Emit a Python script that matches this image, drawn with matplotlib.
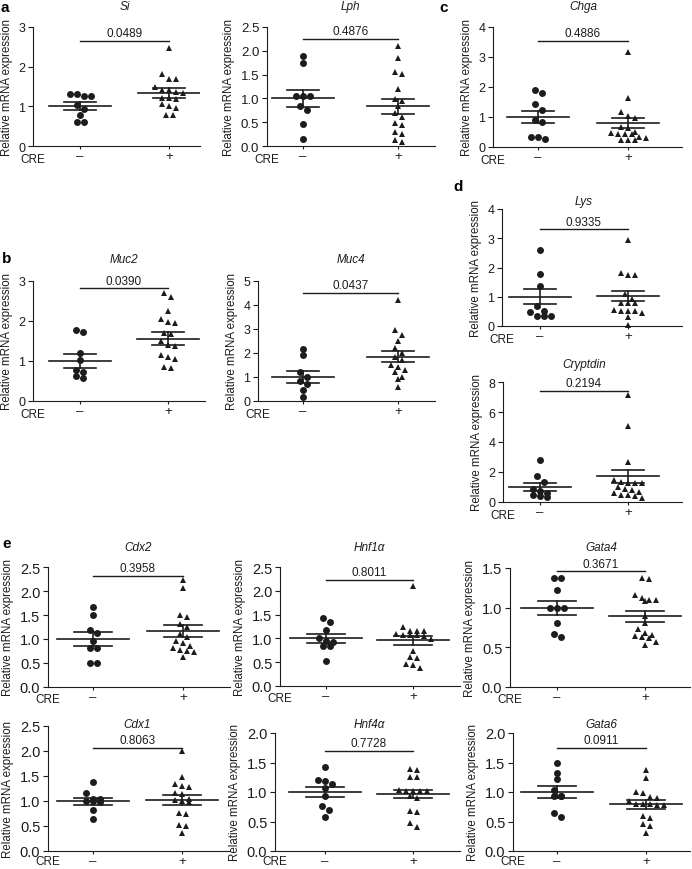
import numpy as np
import matplotlib
matplotlib.use("Agg")
import matplotlib.pyplot as plt

plt.rcParams["font.family"] = ["Liberation Sans", "DejaVu Sans"]

# ---- data (relative mRNA expression, CRE- vs CRE+) ----
si_ctrl = [1.32, 1.27, 1.27, 1.32, 1.04, 0.93, 0.78, 0.60, 0.60]
si_cre = [2.46, 1.82, 1.70, 1.70, 1.48, 1.42, 1.40, 1.35, 1.33, 1.22, 1.20, 1.18, 1.05, 1.00, 0.95, 0.78, 0.78]
si_mean, si_sem, si_p = [1.0, 1.33], [0.10, 0.12], "0.0489"

lph_ctrl = [1.89, 1.75, 1.04, 1.04, 1.04, 0.83, 0.76, 0.47, 0.14]
lph_cre = [2.10, 1.85, 1.55, 1.52, 1.20, 0.98, 0.95, 0.85, 0.70, 0.60, 0.48, 0.45, 0.30, 0.25, 0.12, 0.08]
lph_mean, lph_sem, lph_p = [1.0, 0.83], [0.18, 0.15], "0.4876"

chga_ctrl = [1.91, 1.80, 1.42, 1.24, 0.89, 0.84, 0.35, 0.28, 0.35]
chga_cre = [3.16, 1.64, 1.17, 1.04, 0.97, 0.68, 0.62, 0.50, 0.48, 0.45, 0.45, 0.42, 0.35, 0.30, 0.25, 0.25, 0.25]
chga_mean, chga_sem, chga_p = [1.0, 0.80], [0.21, 0.17], "0.4886"

muc2_ctrl = [1.78, 1.72, 1.20, 1.02, 0.78, 0.72, 0.62, 0.58]
muc2_cre = [2.70, 2.60, 2.25, 2.05, 1.98, 1.95, 1.70, 1.68, 1.50, 1.40, 1.38, 1.15, 1.10, 1.05, 0.85, 0.82]
muc2_mean, muc2_sem, muc2_p = [1.0, 1.56], [0.17, 0.16], "0.0390"

muc4_ctrl = [2.15, 1.90, 1.20, 1.00, 0.85, 0.70, 0.45, 0.15]
muc4_cre = [4.20, 2.95, 2.75, 2.50, 2.20, 2.00, 1.85, 1.70, 1.50, 1.40, 1.30, 1.20, 1.00, 0.90, 0.60]
muc4_mean, muc4_sem, muc4_p = [1.0, 1.85], [0.25, 0.22], "0.0437"

lys_ctrl = [2.60, 1.77, 1.36, 0.70, 0.52, 0.49, 0.33, 0.33, 0.33]
lys_cre = [2.95, 1.82, 1.75, 1.73, 1.10, 0.92, 0.80, 0.78, 0.78, 0.55, 0.52, 0.50, 0.50, 0.45, 0.32, 0.02]
lys_mean, lys_sem, lys_p = [1.0, 1.02], [0.26, 0.18], "0.9335"

cryp_ctrl = [2.80, 1.75, 1.35, 0.90, 0.75, 0.60, 0.48, 0.42, 0.35]
cryp_cre = [7.15, 5.10, 2.70, 1.50, 1.35, 1.30, 1.28, 1.25, 1.00, 0.90, 0.80, 0.70, 0.60, 0.50, 0.45, 0.40, 0.30]
cryp_mean, cryp_sem, cryp_p = [1.0, 1.72], [0.28, 0.43], "0.2194"

cdx2_ctrl = [1.67, 1.51, 1.18, 1.13, 0.96, 0.82, 0.82, 0.51, 0.51]
cdx2_cre = [2.22, 2.07, 1.49, 1.46, 1.32, 1.24, 1.10, 1.05, 0.95, 0.92, 0.85, 0.82, 0.78, 0.75, 0.72, 0.63]
cdx2_mean, cdx2_sem, cdx2_p = [1.0, 1.17], [0.14, 0.12], "0.3958"

hnf1_ctrl = [1.43, 1.34, 1.17, 1.01, 0.94, 0.92, 0.84, 0.84, 0.52]
hnf1_cre = [2.11, 1.23, 1.15, 1.15, 1.15, 1.10, 1.08, 1.07, 1.07, 1.05, 0.98, 0.73, 0.60, 0.58, 0.47, 0.44, 0.38]
hnf1_mean, hnf1_sem, hnf1_p = [1.0, 0.96], [0.10, 0.09], "0.8011"

gata4_ctrl = [1.38, 1.38, 1.22, 1.00, 1.00, 1.00, 0.81, 0.67, 0.63]
gata4_cre = [1.37, 1.36, 1.16, 1.12, 1.10, 1.10, 1.08, 0.90, 0.81, 0.73, 0.68, 0.66, 0.64, 0.63, 0.62, 0.57, 0.53]
gata4_mean, gata4_sem, gata4_p = [1.0, 0.89], [0.09, 0.07], "0.3671"

cdx1_ctrl = [1.38, 1.16, 1.05, 1.04, 1.01, 1.00, 0.99, 0.82, 0.65]
cdx1_cre = [2.00, 1.49, 1.34, 1.30, 1.28, 1.16, 1.15, 1.05, 1.02, 1.00, 0.98, 0.76, 0.74, 0.53, 0.50, 0.37]
cdx1_mean, cdx1_sem, cdx1_p = [1.0, 1.03], [0.07, 0.10], "0.8063"

hnf4_ctrl = [1.43, 1.21, 1.18, 1.14, 1.07, 0.94, 0.76, 0.69, 0.58]
hnf4_cre = [1.39, 1.37, 1.26, 1.25, 1.04, 1.02, 1.02, 1.02, 1.02, 0.93, 0.90, 0.68, 0.66, 0.47, 0.40]
hnf4_mean, hnf4_sem, hnf4_p = [1.0, 0.97], [0.09, 0.07], "0.7728"

gata6_ctrl = [1.50, 1.33, 1.22, 1.04, 0.93, 0.93, 0.94, 0.65, 0.58]
gata6_cre = [1.38, 1.24, 1.00, 0.99, 0.92, 0.90, 0.85, 0.80, 0.80, 0.79, 0.78, 0.78, 0.60, 0.56, 0.45, 0.43, 0.30]
gata6_mean, gata6_sem, gata6_p = [1.0, 0.79], [0.10, 0.07], "0.0911"

group_labels = ["\u2013", "+"]

# ---- layout in pixels: (left, top, right, bottom, x of "-", x of "+"), ymax, ystep,
#      bracket height (data), title y (px), mean / sem half widths (px), tick label size, CRE offset (pt)
W, H = 692, 870
INK = "#1c1c1c"

panels = [
    ("Si", si_ctrl, si_cre, si_mean, si_sem, si_p, (33, 28, 200, 147, 80, 169), 3, 1, 2.65, 7, 31, 16, 9, -5),
    ("Lph", lph_ctrl, lph_cre, lph_mean, lph_sem, lph_p, (267, 28, 435, 147, 303, 398), 2.5, 0.5, 2.25, 7, 31, 16, 9.5, -5),
    ("Chga", chga_ctrl, chga_cre, chga_mean, chga_sem, chga_p, (493, 28, 682, 148, 538, 628), 4, 1, 3.53, 7, 31, 16, 9, -5),
    ("Muc2", muc2_ctrl, muc2_cre, muc2_mean, muc2_sem, muc2_p, (33, 282, 205, 402, 80, 168), 3, 1, 2.82, 260, 31, 16, 9, -5),
    ("Muc4", muc4_ctrl, muc4_cre, muc4_mean, muc4_sem, muc4_p, (258, 282, 435, 402, 303, 398), 5, 1, 4.5, 260, 31, 16, 9, -5),
    ("Lys", lys_ctrl, lys_cre, lys_mean, lys_sem, lys_p, (502, 210, 682, 327, 540, 628), 4, 1, 3.3, 202, 31, 16, 9, -5),
    ("Cryptdin", cryp_ctrl, cryp_cre, cryp_mean, cryp_sem, cryp_p, (503, 383, 682, 503, 540, 628), 8, 2, 7.4, 365, 31, 16, 9, -5),
    ("Cdx2", cdx2_ctrl, cdx2_cre, cdx2_mean, cdx2_sem, cdx2_p, (48, 568, 230, 688, 93, 183), 2.5, 0.5, 2.31, 548, 36, 19, 10.5, -4),
    ("Hnf1\u03b1", hnf1_ctrl, hnf1_cre, hnf1_mean, hnf1_sem, hnf1_p, (280, 568, 460, 687, 326, 413), 2.5, 0.5, 2.23, 548, 36, 19, 10.5, -4),
    ("Gata4", gata4_ctrl, gata4_cre, gata4_mean, gata4_sem, gata4_p, (510, 569, 690, 688, 557, 645), 1.5, 0.5, 1.46, 548, 36, 19, 10.5, -4),
    ("Cdx1", cdx1_ctrl, cdx1_cre, cdx1_mean, cdx1_sem, cdx1_p, (48, 727, 230, 852, 93, 182), 2.5, 0.5, 2.06, 725, 36, 19, 10.5, -3.2),
    ("Hnf4\u03b1", hnf4_ctrl, hnf4_cre, hnf4_mean, hnf4_sem, hnf4_p, (275, 734, 460, 852, 325, 413), 2.0, 0.5, 1.7, 725, 36, 19, 10.5, -3.2),
    ("Gata6", gata6_ctrl, gata6_cre, gata6_mean, gata6_sem, gata6_p, (513, 734, 690, 852, 557, 646), 2.0, 0.5, 1.75, 725, 36, 19, 10.5, -3.2),
]

# letter, x centre (px), top edge (px)
panel_letters = [("a", 5, 0.5), ("b", 7, 252), ("c", 444, 0.5), ("d", 458, 180), ("e", 7, 537)]


def swarm(vals, ppu_x, ppu_y, step=7.0, tol=6.0):
    # GraphPad-like scatter: points of similar height share a row
    vals = np.asarray(vals, float)
    order = np.argsort(-vals, kind="stable")
    rows = []
    for i in order:
        if rows and (vals[rows[-1][0]] - vals[i]) * ppu_y < tol:
            rows[-1].append(i)
        else:
            rows.append([i])
    off = np.zeros(len(vals))
    for r in rows:
        for k, i in enumerate(r):
            off[i] = (k - (len(r) - 1) / 2) * step / ppu_x
    return off


fig = plt.figure(figsize=(W / 100, H / 100), dpi=100)

for (name, ctrl, cre, mean, sem, p, box, ymax, ystep, by, ty, mhw, shw, tsize, cre_dy) in panels:
    L, T, R, B, c1, c2 = box
    ax = fig.add_axes([L / W, 1 - B / H, (R - L) / W, (B - T) / H])
    unit = c2 - c1
    ax.set_xlim(1 - (c1 - L) / unit, 2 + (R - c2) / unit)
    ax.set_ylim(0, ymax)
    ppu_y = (B - T) / ymax

    for g, (vals, mk, ms) in enumerate([(ctrl, "o", 5.0), (cre, "^", 5.0)]):
        xc = g + 1
        x = xc + swarm(vals, unit, ppu_y)
        ax.plot(x, vals, mk, ls="none", ms=ms, color=INK, mew=0, clip_on=False, zorder=3)
        m, s = mean[g], sem[g]
        ax.plot([xc - mhw / unit, xc + mhw / unit], [m, m], color=INK, lw=1.2, zorder=4)
        for yy in (m - s, m + s):
            ax.plot([xc - shw / unit, xc + shw / unit], [yy, yy], color=INK, lw=1.2, zorder=4)
        ax.plot([xc, xc], [m - s, m + s], color=INK, lw=1.2, zorder=4)

    # significance bracket
    ax.plot([1, 2], [by, by], color=INK, lw=1.0, clip_on=False)
    ax.annotate(p, xy=(1.5, by), xytext=(0, 1.2), textcoords="offset points",
                ha="center", va="bottom", fontsize=8.5, color=INK, annotation_clip=False)
    fig.text((c1 + c2) / 2 / W, 1 - ty / H, name, ha="center", va="center",
             fontsize=8.5, style="italic", color=INK)

    for sp in ("top", "right"):
        ax.spines[sp].set_visible(False)
    for sp in ("left", "bottom"):
        ax.spines[sp].set_color(INK)
        ax.spines[sp].set_linewidth(0.8)
    yt = np.arange(0, ymax + 1e-9, ystep)
    ax.set_yticks(yt)
    if ystep < 1:
        ax.set_yticklabels(["%.1f" % v for v in yt])
    else:
        ax.set_yticklabels(["%d" % v for v in yt])
    ax.set_xticks([1, 2])
    ax.set_xticklabels(group_labels)
    ax.tick_params(axis="y", length=3.5, width=0.8, color=INK, labelsize=tsize, labelcolor=INK, pad=2)
    ax.tick_params(axis="x", length=2, width=0.8, color=INK, labelsize=9.5, labelcolor=INK, pad=1)
    ax.set_ylabel("Relative mRNA expression", fontsize=8.3, color=INK, labelpad=4)
    ax.annotate("CRE", xy=(0, 0), xycoords="axes fraction", xytext=(0, cre_dy),
                textcoords="offset points", ha="center", va="top", fontsize=8.5, color=INK)

for letter, lx, ly in panel_letters:
    fig.text(lx / W, 1 - ly / H, letter, ha="center", va="top",
             fontsize=11, fontweight="bold", color="black")

fig.savefig("out.png", dpi=100)
